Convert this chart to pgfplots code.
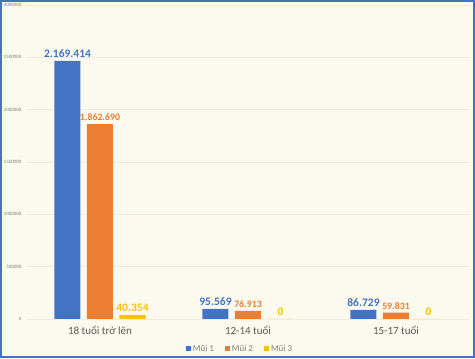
\documentclass[border=0pt]{standalone}
\usepackage{pgfplots}
\pgfplotsset{compat=1.18}
\usepackage{pgfplotstable}
\usepackage{fontspec}
\setmainfont{Carlito}
\definecolor{cblue}{HTML}{4472C4}
\definecolor{corange}{HTML}{ED7D31}
\definecolor{cyellow}{HTML}{FFC000}
\definecolor{cbg}{HTML}{FCF9EE}
\definecolor{cgrid}{HTML}{EFEBDE}
\definecolor{ctext}{HTML}{595959}
\definecolor{clegend}{HTML}{7F7F7F}
\pgfplotstableread{
x y lab
0 2465000 2.169.414
1 95569 95.569
2 86729 86.729
}\mone
\pgfplotstableread{
x y lab
0 1862690 1.862.690
1 76913 76.913
2 59831 59.831
}\mtwo
\pgfplotstableread{
x y lab
0 40354 40.354
1 0 0
2 0 0
}\mthree
\begin{document}
\begin{tikzpicture}
\fill[cbg] (0pt,0pt) rectangle (475pt,359pt);
\begin{axis}[
  at={(26pt,40pt)}, anchor=south west,
  scale only axis, width=444pt, height=314pt,
  xmin=-0.5, xmax=2.5, ymin=0, ymax=3000000,
  ybar=6.5pt, bar width=26pt,
  axis line style={draw=none},
  major tick length=0pt,
  ymajorgrids, grid style={cgrid, line width=0.6pt},
  ytick={0,500000,1000000,1500000,2000000,2500000,3000000},
  scaled y ticks=false,
  yticklabel style={font=\fontsize{5}{5}\selectfont, color=gray, /pgf/number format/fixed, /pgf/number format/1000 sep={}, /pgf/number format/assume math mode=true, xshift=-1pt},
  xtick={0,1,2},
  xticklabels={18 tuổi trở lên, 12-14 tuổi, 15-17 tuổi},
  xticklabel style={font=\fontsize{11}{11}\selectfont, color=ctext, yshift=-3pt},
  nodes near coords,
  point meta=explicit symbolic,
  legend columns=3,
  legend style={at={(0.482,-0.095)}, anchor=center, draw=none, fill=none,
    font=\fontsize{9}{9}\selectfont, text=clegend,
    /tikz/every even column/.append style={column sep=9pt}},
  legend image code/.code={\fill[#1] (0pt,-2.5pt) rectangle (5pt,2.5pt);},
]
\addplot[fill=cblue, draw=none, every node near coord/.append style={font=\fontsize{11.5}{11.5}\selectfont\bfseries, color=cblue}] table[x=x, y=y, meta=lab] {\mone};
\addplot[fill=corange, draw=none, every node near coord/.append style={font=\fontsize{9.8}{9.8}\selectfont\bfseries, color=corange}] table[x=x, y=y, meta=lab] {\mtwo};
\addplot[fill=cyellow, draw=none, every node near coord/.append style={font=\fontsize{11.5}{11.5}\selectfont\bfseries, color=cyellow}] table[x=x, y=y, meta=lab] {\mthree};
\legend{Mũi 1, Mũi 2, Mũi 3}
\end{axis}
\draw[cblue, line width=2pt] (1pt,1.5pt) rectangle (473.5pt,358pt);
\end{tikzpicture}
\end{document}
